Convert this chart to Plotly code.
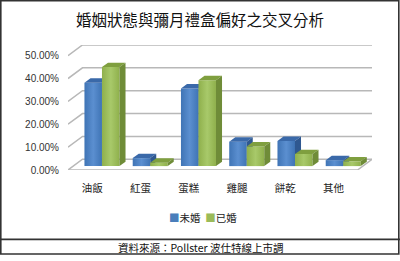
import plotly.graph_objects as go

# Data
categories = ["油飯", "紅蛋", "蛋糕", "雞腿", "餅乾", "其他"]
series_names = ["未婚", "已婚"]
unmarried = [36.5, 3.5, 34.0, 10.7, 11.0, 2.6]
married = [43.3, 1.5, 37.6, 8.6, 5.3, 2.1]
y_ticks = [0, 10, 20, 30, 40, 50]
y_tick_labels = ["%.2f%%" % t for t in y_ticks]

# Fake-3D geometry (in axis units)
WALL_DX, WALL_DY = 0.30, 4.7      # depth of floor / back wall
BAR_DX, BAR_DY = 0.104, 1.7       # bar front offset behind the floor edge
DEPTH_DX, DEPTH_DY = 0.125, 1.9   # bar depth
BAR_W = 0.363
BAR_START = [-0.263, 0.10]        # left edge of each series relative to category

styles = [
    dict(front=["#3f74b5", "#5b8fd0", "#3f74b5"], top="#3a69a9", side="#2f5890", key="#4a7ebb"),
    dict(front=["#8fb04c", "#a8c96a", "#8fb04c"], top="#7f9f3f", side="#6f8c38", key="#9bbb59"),
]

fig = go.Figure()

GRID = "#b8b8b8"
x_lo, x_hi = -0.5, len(categories) - 0.5

# back wall gridlines and left-wall diagonals
for g in y_ticks:
    fig.add_trace(go.Scatter(
        x=[x_lo, x_lo + WALL_DX, x_hi + WALL_DX],
        y=[g, g + WALL_DY, g + WALL_DY],
        mode="lines", line=dict(color=GRID, width=1.5),
        hoverinfo="skip", showlegend=False))

# floor outline
fig.add_trace(go.Scatter(
    x=[x_lo, x_hi, x_hi + WALL_DX],
    y=[0, 0, WALL_DY],
    mode="lines", line=dict(color=GRID, width=1.5),
    hoverinfo="skip", showlegend=False))

values = [unmarried, married]
for i in range(len(categories)):
    for s in range(2):
        v = values[s][i]
        st = styles[s]
        x0 = i + BAR_START[s] + BAR_DX
        x1 = x0 + BAR_W
        b = BAR_DY
        t = BAR_DY + v
        # front face
        fig.add_trace(go.Scatter(
            x=[x0, x1, x1, x0, x0], y=[b, b, t, t, b],
            mode="lines", line=dict(width=0), fill="toself",
            fillgradient=dict(type="horizontal",
                              colorscale=[[0, st["front"][0]], [0.5, st["front"][1]], [1, st["front"][2]]]),
            name=series_names[s], hoverinfo="skip", showlegend=False))
        # top face
        fig.add_trace(go.Scatter(
            x=[x0, x1, x1 + DEPTH_DX, x0 + DEPTH_DX, x0],
            y=[t, t, t + DEPTH_DY, t + DEPTH_DY, t],
            mode="lines", line=dict(width=0), fill="toself", fillcolor=st["top"],
            hoverinfo="skip", showlegend=False))
        # side face
        fig.add_trace(go.Scatter(
            x=[x1, x1 + DEPTH_DX, x1 + DEPTH_DX, x1, x1],
            y=[b, b + DEPTH_DY, t + DEPTH_DY, t, b],
            mode="lines", line=dict(width=0), fill="toself", fillcolor=st["side"],
            hoverinfo="skip", showlegend=False))

W, H = 400, 261

# compact legend drawn as text with coloured square keys
legend_text = "&nbsp;&nbsp;".join(
    '<span style="color:%s">■</span>%s' % (styles[s]["key"], name)
    for s, name in enumerate(series_names))

fig.update_layout(
    width=W, height=H,
    margin=dict(l=0, r=0, t=0, b=0),
    paper_bgcolor="white", plot_bgcolor="white",
    showlegend=False,
    xaxis=dict(domain=[68 / W, 372 / W], range=[x_lo, x_hi + WALL_DX],
               tickvals=list(range(len(categories))), ticktext=categories,
               showgrid=False, zeroline=False, showline=False, ticks="",
               ticklabelstandoff=10,
               tickfont=dict(family="Noto Sans CJK TC", size=10.5, color="#222")),
    yaxis=dict(domain=[1 - 174 / H, 1 - 46 / H], range=[0, 50 + WALL_DY],
               tickvals=y_ticks, ticktext=y_tick_labels,
               showgrid=False, zeroline=False, showline=False, ticks="",
               ticklabelstandoff=8,
               tickfont=dict(family="Liberation Sans", size=10, color="#333")),
    annotations=[
        dict(text="婚姻狀態與彌月禮盒偏好之交叉分析", xref="paper", yref="paper",
             x=0.5, y=1 - 19 / H, xanchor="center", yanchor="middle", showarrow=False,
             font=dict(family="Noto Sans CJK TC", size=15.5, color="#111")),
        dict(text=legend_text, xref="paper", yref="paper",
             x=203 / W, y=1 - 223 / H, xanchor="center", yanchor="middle", showarrow=False,
             font=dict(family="Noto Sans CJK TC", size=10.5, color="#222")),
        dict(text="資料來源：Pollster 波仕特線上市調", xref="paper", yref="paper",
             x=0.5, y=1 - 253 / H, xanchor="center", yanchor="middle", showarrow=False,
             font=dict(family="Noto Sans CJK TC", size=10.5, color="#111")),
    ],
    shapes=[
        dict(type="rect", xref="paper", yref="paper", x0=0.8 / W, x1=1 - 1.2 / W,
             y0=1 / H, y1=1 - 0.8 / H, line=dict(color="#333", width=1.6)),
        dict(type="line", xref="paper", yref="paper", x0=0, x1=1,
             y0=1 - 245 / H, y1=1 - 245 / H, line=dict(color="#333", width=1.6)),
    ],
)

fig.write_html("out.html")
